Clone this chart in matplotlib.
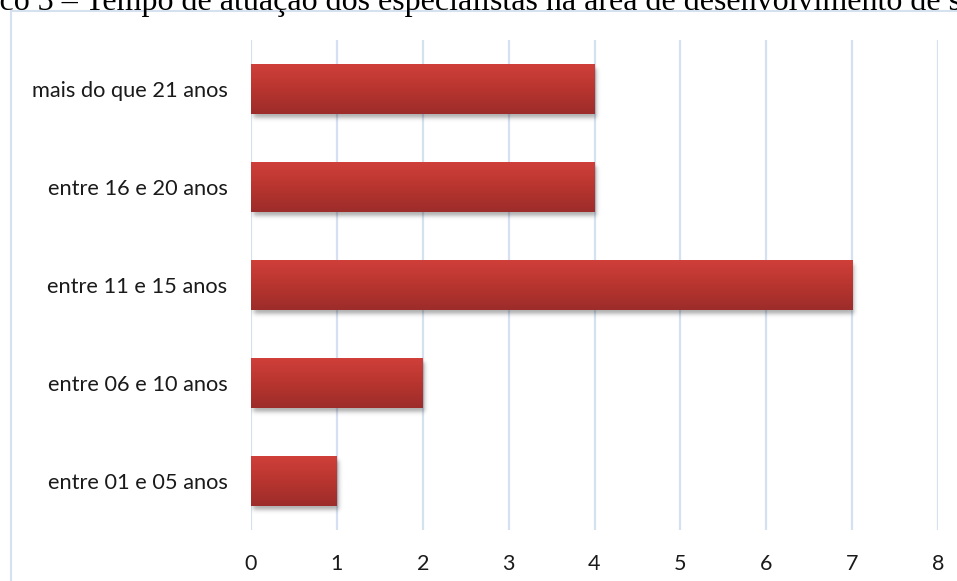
import numpy as np
import matplotlib
matplotlib.use("Agg")
import matplotlib.pyplot as plt
from matplotlib.colors import LinearSegmentedColormap

# Experience ranges (bottom to top) and number of specialists in each
categories = ["entre 01 e 05 anos", "entre 06 e 10 anos", "entre 11 e 15 anos",
              "entre 16 e 20 anos", "mais do que 21 anos"]
counts = [1, 2, 7, 4, 4]
x_ticks = [0, 1, 2, 3, 4, 5, 6, 7, 8]
title = "Gráfico 3 – Tempo de atuação dos especialistas na área de desenvolvimento de software"

W, H = 957, 581
fig = plt.figure(figsize=(W / 100, H / 100), dpi=100)
fig.patch.set_facecolor("white")

# chart frame (only left and top edges fall inside the canvas)
frame_col = "#d6e1ef"
fig.add_artist(plt.Line2D([11 / W, 11 / W], [0, 1 - 11 / H], transform=fig.transFigure,
                          color=frame_col, lw=1.5))
fig.add_artist(plt.Line2D([11 / W, 1], [1 - 11 / H, 1 - 11 / H], transform=fig.transFigure,
                          color=frame_col, lw=1.5))

# title running off the top edge
tkw = dict(family="Liberation Serif", fontsize=23.0)
renderer = fig.canvas.get_renderer()
probe = fig.text(0, 0, "Gráfi", **tkw)
shift = probe.get_window_extent(renderer).width
probe.remove()
fig.text(-shift / W, 1 - 10 / H, title, ha="left", va="baseline", color="black", **tkw)

ax = fig.add_axes([251 / W, 51 / H, 687 / W, 490 / H])
ax.set_xlim(0, 8)
ax.set_ylim(-0.5, 4.5)

font = "Lato"
ax.set_xticks(x_ticks)
ax.set_xticklabels([str(t) for t in x_ticks], family=font, fontsize=15.5)
ax.set_yticks(range(len(categories)))
ax.set_yticklabels(categories, family=font, fontsize=15.7)
ax.tick_params(axis="both", length=0, colors="#1a1a1a")
ax.tick_params(axis="y", pad=17)
ax.tick_params(axis="x", pad=17)
for s in ax.spines.values():
    s.set_visible(False)
ax.set_axisbelow(True)
ax.grid(axis="x", color="#d5e0f0", lw=1.6)
ax.grid(axis="y", visible=False)

cmap = LinearSegmentedColormap.from_list("bar", ["#9c2c2a", "#b8352f", "#d03f3a"])
grad = np.linspace(0, 1, 256).reshape(-1, 1)
h = 0.51

# data units per pixel
ux = 8 / 687
uy = 5 / 490


def shadow(x0, y0, w, hh):
    """Blurred drop shadow offset down and to the right of a bar."""
    dx, dy, s = 2 * ux, -4 * uy, 2.5
    xa, xb = x0 - 8 * ux, x0 + w + 12 * ux
    ya, yb = y0 - 14 * uy, y0 + hh
    xs = np.linspace(xa, xb, 300)
    ys = np.linspace(ya, yb, 120)
    fx = 0.5 * (np.tanh((xs - (x0 + dx)) / (s * ux)) - np.tanh((xs - (x0 + w + dx)) / (s * ux)))
    fy = 0.5 * (np.tanh((ys - (y0 + dy)) / (s * uy)) - np.tanh((ys - (y0 + hh + dy)) / (s * uy)))
    alpha = np.outer(fy, fx) * 0.32
    rgba = np.zeros((len(ys), len(xs), 4))
    rgba[..., 3] = alpha
    ax.imshow(rgba, aspect="auto", origin="lower", extent=(xa, xb, ya, yb),
              zorder=2.5, interpolation="bilinear")


bars = ax.barh(range(len(categories)), counts, height=h, color="none", zorder=3)
for b in bars:
    x0, y0, w, hh = b.get_x(), b.get_y(), b.get_width(), b.get_height()
    shadow(x0, y0, w, hh)
    im = ax.imshow(grad, cmap=cmap, aspect="auto", origin="lower",
                   extent=(x0, x0 + w, y0, y0 + hh), zorder=3.5, interpolation="bilinear")
    im.set_clip_path(b)

ax.set_xlim(0, 8)
ax.set_ylim(-0.5, 4.5)

fig.savefig("out.png", dpi=100, facecolor="white")
